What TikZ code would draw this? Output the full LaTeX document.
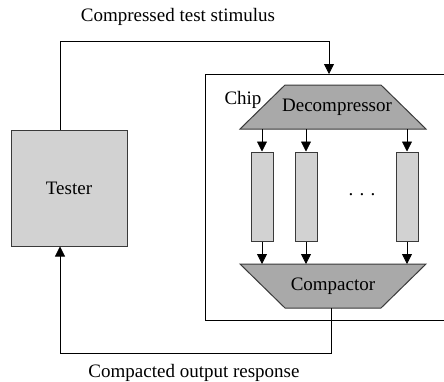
\documentclass[tikz,border=0pt]{standalone}
\usepackage{fontspec}
\setmainfont{Liberation Serif}
\usetikzlibrary{arrows.meta}
\definecolor{edge}{HTML}{3A3A3A}
\definecolor{lightfill}{HTML}{D2D2D2}
\definecolor{darkfill}{HTML}{A9A9A9}
\tikzset{
  box/.style={draw=edge, line width=1pt, fill=lightfill, inner sep=0pt},
  trap/.style={draw=edge, line width=1pt, fill=darkfill},
  wire/.style={draw=black, line width=0.8pt},
  arr/.style={wire, -{Triangle[width=10pt,length=10pt]}},
  lbl/.style={font=\fontsize{19}{22}\selectfont, inner sep=0pt}
}
\begin{document}
\begin{tikzpicture}[x=1pt,y=-1pt]
\useasboundingbox (0,0) rectangle (444,381);
% Tester
\node[box, minimum width=116pt, minimum height=116pt] (tester) at (69,188) {};
\node[lbl] (testerlbl) at (69,188) {Tester};
% Chip outline
\coordinate (chipTR) at (444,74);
\coordinate (chipTL) at (205,74);
\coordinate (chipBL) at (205,320);
\coordinate (chipBR) at (444,320);
\draw[line width=0.8pt] (chipTR) -- (chipTL) -- (chipBL) -- (chipBR);
\node[lbl] (chiplbl) at (243,100) {Chip};
% Decompressor
\draw[trap] (285,85) -- (381,85) -- (426,129) -- (240,129) -- cycle;
\node[lbl] (dec) at (337,107) {Decompressor};
% Compactor
\draw[trap] (240,264) -- (426,264) -- (381,308) -- (285,308) -- cycle;
\node[lbl] (comp) at (333,286) {Compactor};
% Columns
\node[box, minimum width=22pt, minimum height=89pt] (c1) at (262,196.5) {};
\node[box, minimum width=22pt, minimum height=89pt] (c2) at (306,196.5) {};
\node[box, minimum width=22pt, minimum height=89pt] (c3) at (407,196.5) {};
\node[lbl] (dots) at (362,195) {.\,\,.\,\,.};
% column arrows
\foreach \c in {c1,c2,c3}{
  \coordinate (\c top) at (\c.north |- 0,129);
  \coordinate (\c bot) at (\c.south |- 0,264);
  \draw[arr] (\c top) -- (\c.north);
  \draw[arr] (\c.south) -- (\c bot);
}
% Top wire
\coordinate (testertop) at (tester.north -| 60,0);
\coordinate (chipin) at (329,74);
\draw[arr] (testertop) |- (329,41) -- (chipin);
\node[lbl] (toplbl) at (178,17) {Compressed test stimulus};
% Bottom wire
\coordinate (compout) at (331,308);
\coordinate (testerbot) at (tester.south -| 60,0);
\draw[arr] (compout) |- (60,353) -- (testerbot);
\node[lbl] (botlbl) at (194,373) {Compacted output response};
\end{tikzpicture}
\end{document}
